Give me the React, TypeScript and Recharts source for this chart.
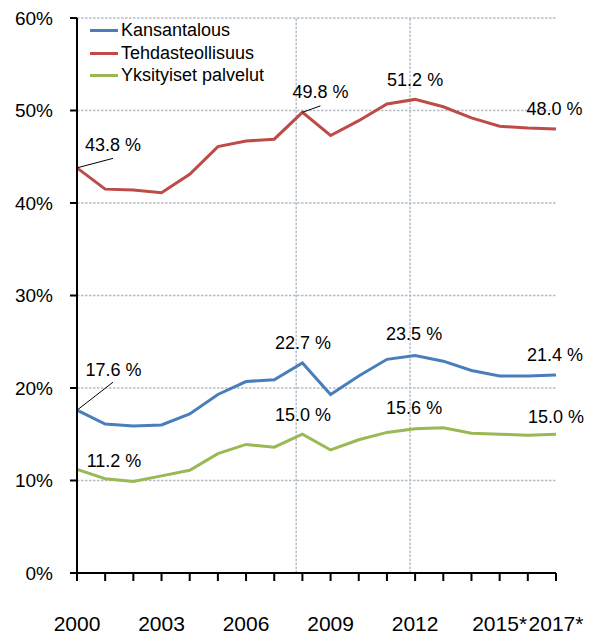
import React from 'react';
import {
  LineChart,
  Line,
  XAxis,
  YAxis,
  CartesianGrid,
  ReferenceLine,
  Legend,
  LabelList,
} from 'recharts';

const years = [
  2000, 2001, 2002, 2003, 2004, 2005, 2006, 2007, 2008,
  2009, 2010, 2011, 2012, 2013, 2014, 2015, 2016, 2017,
];
const kansantalous = [
  17.6, 16.1, 15.9, 16.0, 17.2, 19.3, 20.7, 20.9, 22.7,
  19.3, 21.3, 23.1, 23.5, 22.9, 21.9, 21.3, 21.3, 21.4,
];
const tehdasteollisuus = [
  43.8, 41.5, 41.4, 41.1, 43.1, 46.1, 46.7, 46.9, 49.8,
  47.3, 48.9, 50.7, 51.2, 50.4, 49.2, 48.3, 48.1, 48.0,
];
const palvelut = [
  11.2, 10.2, 9.9, 10.5, 11.1, 12.9, 13.9, 13.6, 15.0,
  13.3, 14.4, 15.2, 15.6, 15.7, 15.1, 15.0, 14.9, 15.0,
];
const xLabels: Record<number, string> = {
  2000: '2000',
  2003: '2003',
  2006: '2006',
  2009: '2009',
  2012: '2012',
  2015: '2015*',
  2017: '2017*',
};
const yTicks = [0, 10, 20, 30, 40, 50, 60];
const verticalGuides = [2007.78, 2011.82];

const data = years.map((year, i) => ({
  year,
  kansantalous: kansantalous[i],
  tehdasteollisuus: tehdasteollisuus[i],
  palvelut: palvelut[i],
}));

const series = [
  { key: 'kansantalous', name: 'Kansantalous', color: '#4a7ebb' },
  { key: 'tehdasteollisuus', name: 'Tehdasteollisuus', color: '#be4b48' },
  { key: 'palvelut', name: 'Yksityiset palvelut', color: '#98b954' },
];

const font = '"Liberation Sans", Arial, sans-serif';
const gridColor = '#b3bdc8';

type Placement = { dx: number; dy: number; lx?: number; ly?: number };

// which points get a value label, and where it sits relative to the point
const labelPlacement: Record<string, Record<number, Placement>> = {
  tehdasteollisuus: {
    0: { dx: 36, dy: -23.5, lx: 36, ly: -9.5 },
    8: { dx: 18, dy: -20.5, lx: 18, ly: -6.5 },
    12: { dx: 0, dy: -20 },
    17: { dx: -1.5, dy: -21 },
  },
  kansantalous: {
    0: { dx: 36.5, dy: -41, lx: 36, ly: -28 },
    8: { dx: 0.5, dy: -20.5 },
    12: { dx: -1, dy: -22 },
    17: { dx: -1, dy: -21 },
  },
  palvelut: {
    0: { dx: 37, dy: -9 },
    8: { dx: 0.5, dy: -20 },
    12: { dx: -1, dy: -21 },
    17: { dx: 0, dy: -17.5 },
  },
};

const makeLabel = (key: string) => (props: any) => {
  const { x, y, value, index } = props;
  const p = labelPlacement[key][index];
  if (!p || value == null) return null;
  return (
    <g>
      {p.lx !== undefined && (
        <line x1={x} y1={y} x2={x + p.lx} y2={y + (p.ly || 0)} stroke="#000" strokeWidth={1} />
      )}
      <text
        x={x + p.dx}
        y={y + p.dy + 6.5}
        textAnchor="middle"
        fontSize={18}
        fontFamily={font}
        fill="#000"
      >
        {Number(value).toFixed(1)} %
      </text>
    </g>
  );
};

const XTick = (props: any) => {
  const { x, y, payload } = props;
  const label = xLabels[payload.value];
  if (!label) return null;
  return (
    <text x={x} y={y + 48} textAnchor="middle" fontSize={21} fontFamily={font} fill="#000">
      {label}
    </text>
  );
};

const LegendBox = () => (
  <div style={{ fontFamily: font, fontSize: 18, color: '#000' }}>
    {series.map((s) => (
      <div key={s.key} style={{ display: 'flex', alignItems: 'center', height: 22.7 }}>
        <span style={{ display: 'inline-block', width: 28, height: 3, background: s.color, marginRight: 3 }} />
        <span>{s.name}</span>
      </div>
    ))}
  </div>
);

export default function App() {
  return (
    <div style={{ position: 'absolute', left: 0, top: 0, background: '#fff' }}>
      <LineChart
        width={594}
        height={637}
        data={data}
        margin={{ top: 18, right: 38, bottom: 0, left: 0 }}
      >
        <CartesianGrid
          horizontal={true}
          vertical={false}
          stroke={gridColor}
          strokeWidth={1.5}
          strokeDasharray="2.5 1.5"
        />
        {verticalGuides.map((g) => (
          <ReferenceLine
            key={g}
            x={g}
            stroke={gridColor}
            strokeWidth={1.5}
            strokeDasharray="2.5 1.5"
            ifOverflow="visible"
          />
        ))}
        <XAxis
          dataKey="year"
          type="number"
          domain={[2000, 2017]}
          ticks={years}
          interval={0}
          height={64}
          tickSize={8}
          stroke="#000"
          strokeWidth={2}
          tickLine={{ stroke: '#000', strokeWidth: 2 }}
          tick={<XTick />}
        />
        <YAxis
          domain={[0, 60]}
          ticks={yTicks}
          interval={0}
          width={77}
          tickSize={7}
          tickMargin={17}
          stroke="#000"
          strokeWidth={2}
          tickLine={{ stroke: '#000', strokeWidth: 2 }}
          tickFormatter={(v: number) => `${v}%`}
          tick={{ fill: '#000', fontSize: 19, fontFamily: font }}
        />
        <Legend
          layout="horizontal"
          verticalAlign="middle"
          align="center"
          content={<LegendBox />}
          wrapperStyle={{ left: 90, top: 19, width: 'auto' }}
        />
        {series.map((s) => (
          <Line
            key={s.key}
            dataKey={s.key}
            name={s.name}
            type="linear"
            stroke={s.color}
            strokeWidth={3}
            dot={false}
            isAnimationActive={false}
          >
            <LabelList dataKey={s.key} content={makeLabel(s.key)} />
          </Line>
        ))}
      </LineChart>
    </div>
  );
}
